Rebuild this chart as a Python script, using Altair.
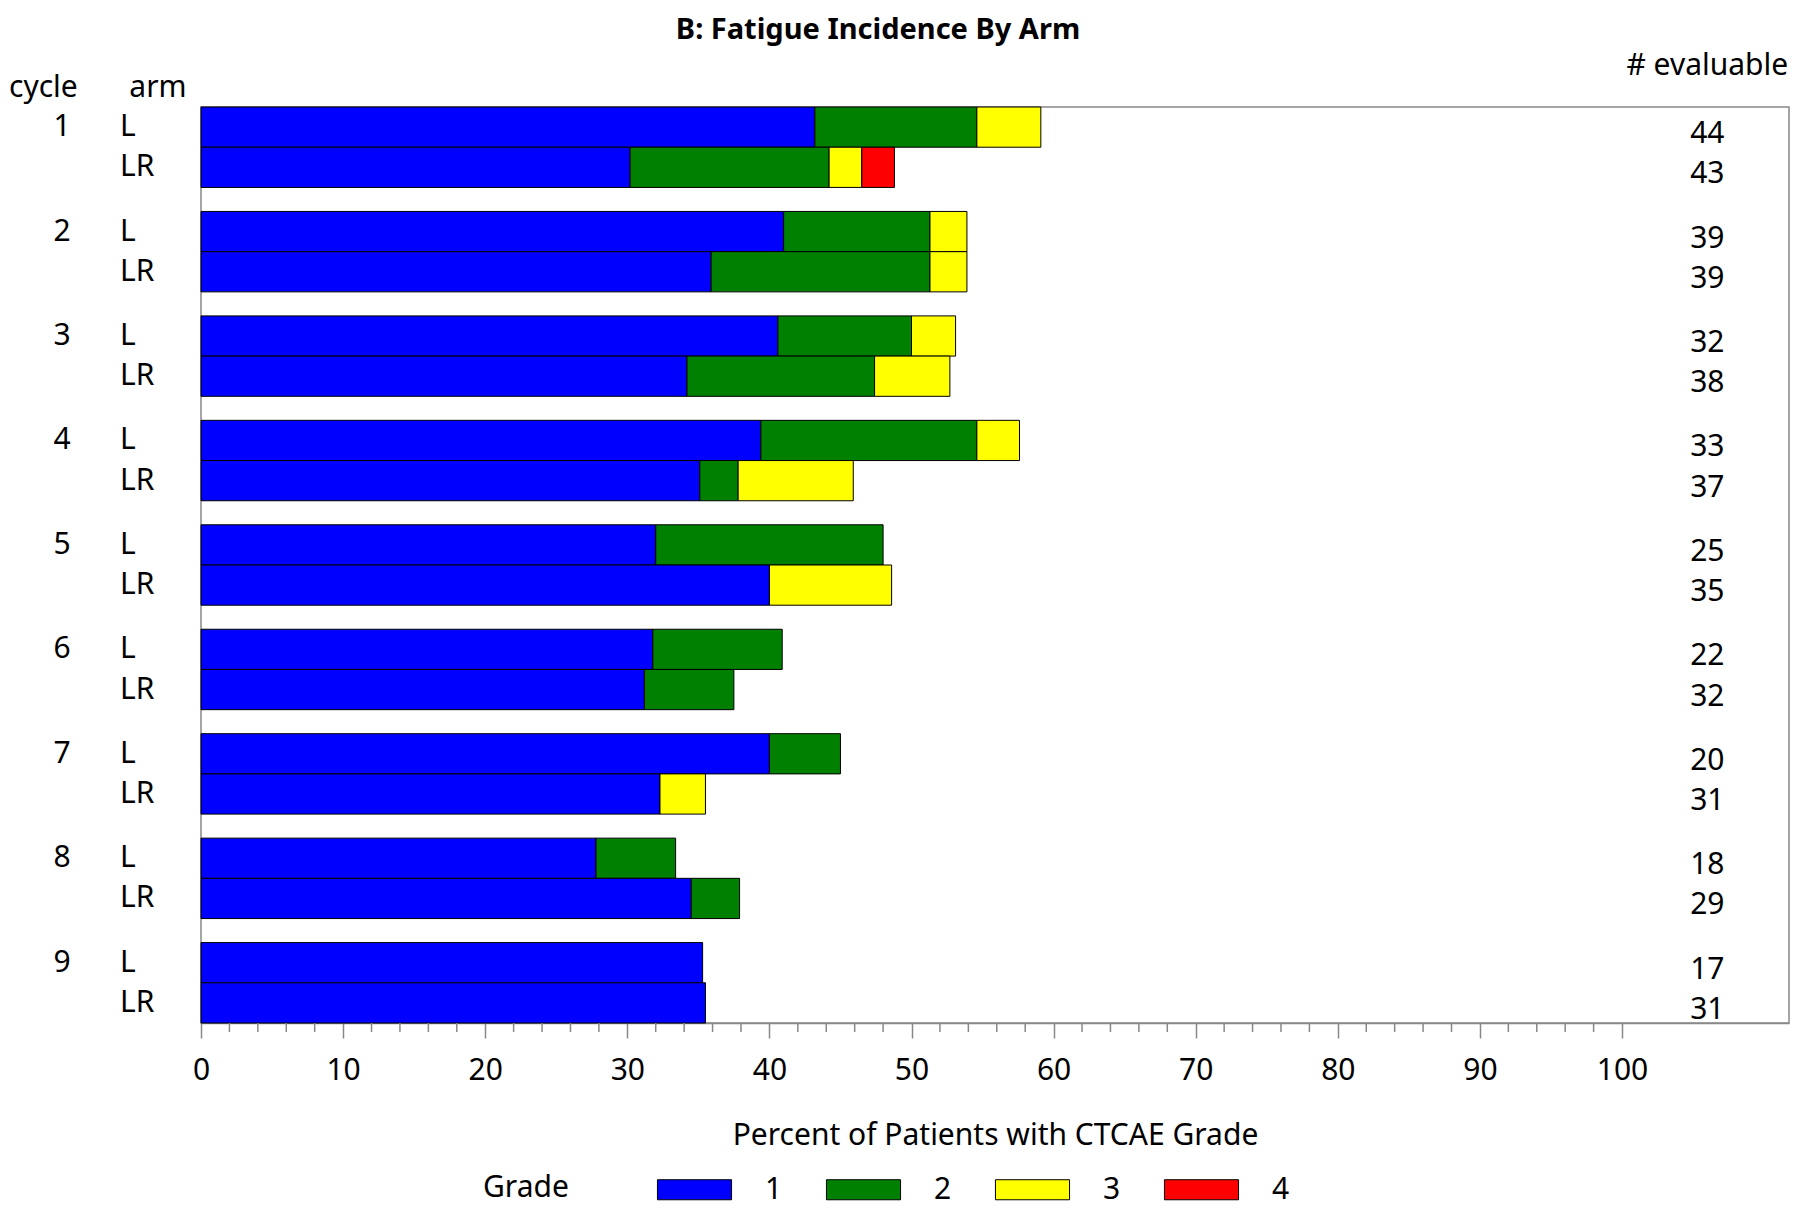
import altair as alt
import pandas as pd

FONT = "Noto Sans"

cycles = [1, 2, 3, 4, 5, 6, 7, 8, 9]
arms = ["L", "LR"]
grades = ["1", "2", "3", "4"]
grade_colors = ["#0000FF", "#008000", "#FFFF00", "#FF0000"]

# number of evaluable patients per cycle
evaluable_L = [44, 39, 32, 33, 25, 22, 20, 18, 17]
evaluable_LR = [43, 39, 38, 37, 35, 32, 31, 29, 31]

# percent of patients with each CTCAE grade (per cycle)
grade1_L = [43.2, 41.0, 40.6, 39.4, 32.0, 31.8, 40.0, 27.8, 35.3]
grade2_L = [11.4, 10.3, 9.4, 15.2, 16.0, 9.1, 5.0, 5.6, 0.0]
grade3_L = [4.5, 2.6, 3.1, 3.0, 0.0, 0.0, 0.0, 0.0, 0.0]
grade4_L = [0.0, 0.0, 0.0, 0.0, 0.0, 0.0, 0.0, 0.0, 0.0]

grade1_LR = [30.2, 35.9, 34.2, 35.1, 40.0, 31.2, 32.3, 34.5, 35.5]
grade2_LR = [14.0, 15.4, 13.2, 2.7, 0.0, 6.3, 0.0, 3.4, 0.0]
grade3_LR = [2.3, 2.6, 5.3, 8.1, 8.6, 0.0, 3.2, 0.0, 0.0]
grade4_LR = [2.3, 0.0, 0.0, 0.0, 0.0, 0.0, 0.0, 0.0, 0.0]

x_tick_values = [0, 10, 20, 30, 40, 50, 60, 70, 80, 90, 100]
minor_tick_values = [v for v in range(0, 101, 2) if v % 10 != 0]

chart_title = "B: Fatigue Incidence By Arm"

series = {
    "L": [grade1_L, grade2_L, grade3_L, grade4_L],
    "LR": [grade1_LR, grade2_LR, grade3_LR, grade4_LR],
}
rows = []
for arm in arms:
    for i, c in enumerate(cycles):
        start = 0.0
        for g, vals in zip(grades, series[arm]):
            v = vals[i]
            if v > 0:
                rows.append({"cycle": c, "arm": arm, "grade": g,
                             "start": start, "end": start + v})
                start += v
bars_df = pd.DataFrame(rows)

lab_rows = []
for i, c in enumerate(cycles):
    lab_rows.append({"cycle": c, "arm": "L", "n": evaluable_L[i]})
    lab_rows.append({"cycle": c, "arm": "LR", "n": evaluable_LR[i]})
labels_df = pd.DataFrame(lab_rows)

x_scale = alt.Scale(domain=[0, 111.75], nice=False, zero=True)
y_enc = alt.Y("cycle:O", scale=alt.Scale(paddingInner=0.23, paddingOuter=0), axis=None)
yoff_enc = alt.YOffset("arm:N", scale=alt.Scale(domain=arms, paddingInner=0, paddingOuter=0))

bars = alt.Chart(bars_df).mark_bar(stroke="#000000", strokeWidth=1).encode(
    x=alt.X("start:Q", scale=x_scale,
            axis=alt.Axis(values=x_tick_values, format="d",
                          title="Percent of Patients with CTCAE Grade",
                          titleFont=FONT, titleFontSize=30, titleFontWeight="normal",
                          titleColor="black", titlePadding=35,
                          labelFont=FONT, labelFontSize=30, labelColor="black",
                          labelPadding=17, labelFlush=False, labelOverlap=False,
                          tickSize=15, tickColor="#888888", tickWidth=1.5,
                          domainColor="#888888", domainWidth=1.5, grid=False)),
    x2="end:Q",
    y=y_enc,
    yOffset=yoff_enc,
    color=alt.Color("grade:N", scale=alt.Scale(domain=grades, range=grade_colors),
                    legend=alt.Legend(orient="none", legendX=282, legendY=1065,
                                      direction="horizontal", title="Grade",
                                      titleOrient="left", titleAnchor="middle",
                                      titleBaseline="middle",
                                      titleFont=FONT, titleFontSize=30,
                                      titleFontWeight="normal", titleColor="black",
                                      titlePadding=108,
                                      labelFont=FONT, labelFontSize=30, labelColor="black",
                                      labelOffset=53, columnPadding=41,
                                      symbolType="M-2.18,-0.59L2.18,-0.59L2.18,0.59L-2.18,0.59Z",
                                      symbolSize=1156, symbolStrokeColor="black",
                                      symbolStrokeWidth=1, symbolOpacity=1, padding=0)),
)

minor_ticks = alt.Chart(pd.DataFrame({"v": minor_tick_values})).mark_rule(
    color="#888888", strokeWidth=1.5
).encode(x=alt.X("v:Q", scale=x_scale), y=alt.value(916), y2=alt.value(925))

cycle_text = alt.Chart(labels_df).transform_filter("datum.arm == 'L'").mark_text(
    align="center", baseline="middle", font=FONT, fontSize=30, color="black"
).encode(x=alt.value(-139), y=y_enc, yOffset=yoff_enc, text="cycle:O")

arm_text = alt.Chart(labels_df).mark_text(
    align="left", baseline="middle", font=FONT, fontSize=30, color="black"
).encode(x=alt.value(-81), y=y_enc, yOffset=yoff_enc, text="arm:N")

n_text = alt.Chart(labels_df).mark_text(
    align="center", baseline="middle", font=FONT, fontSize=30, color="black", dy=7
).encode(x=alt.datum(106.0), y=y_enc, yOffset=yoff_enc, text="n:Q")

hdr_cycle = alt.Chart(pd.DataFrame({"h": ["cycle"]})).mark_text(
    align="left", baseline="alphabetic", font=FONT, fontSize=30, color="black"
).encode(x=alt.value(-192), y=alt.value(-10), text="h:N")

hdr_arm = alt.Chart(pd.DataFrame({"h": ["arm"]})).mark_text(
    align="center", baseline="alphabetic", font=FONT, fontSize=30, color="black"
).encode(x=alt.value(-43), y=alt.value(-10), text="h:N")

hdr_n = alt.Chart(pd.DataFrame({"h": ["# evaluable"]})).mark_text(
    align="center", baseline="alphabetic", font=FONT, fontSize=30, color="black"
).encode(x=alt.datum(106.0), y=alt.value(-32), text="h:N")

title_text = alt.Chart(pd.DataFrame({"h": [chart_title]})).mark_text(
    align="center", baseline="alphabetic", font=FONT, fontSize=29,
    fontWeight="bold", color="black"
).encode(x=alt.value(677), y=alt.value(-68), text="h:N")

chart = alt.layer(
    bars, minor_ticks, cycle_text, arm_text, n_text, hdr_cycle, hdr_arm, hdr_n, title_text
).properties(
    width=1588, height=916,
    autosize=alt.AutoSizeParams(type="none"),
    padding={"left": 193, "top": 99, "right": 2, "bottom": 181},
).configure_view(stroke="#888888", strokeWidth=1.5)

chart.save("out.html", embed_options={"renderer": "svg", "actions": False})
